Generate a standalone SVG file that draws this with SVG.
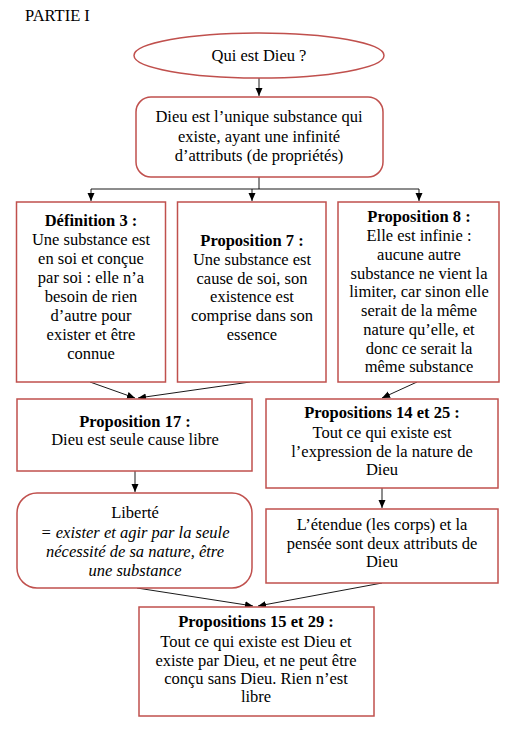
<svg xmlns="http://www.w3.org/2000/svg" width="520" height="735" viewBox="0 0 520 735">
<defs>
<style>
.box{fill:#fff;stroke:#c0504d;stroke-width:1.5}
.t{font-family:"Liberation Serif","Times New Roman",serif;font-size:16.5px;fill:#000;text-anchor:middle}
.b{font-weight:bold}
.i{font-style:italic}
.c{stroke:#000;stroke-width:0.9;fill:none}
</style>
<marker id="ah" markerUnits="userSpaceOnUse" markerWidth="8" markerHeight="8" viewBox="0 0 8 8" refX="8" refY="4" orient="auto">
<path d="M0,0.5 L8,4 L0,7.5 Z" fill="#000"/>
</marker>
</defs>
<rect width="520" height="735" fill="#fff"/>
<text x="25" y="21" style="font-family:'Liberation Serif',serif;font-size:16.5px">PARTIE I</text>

<g id="connectors">
<line class="c" x1="259" y1="78" x2="259" y2="96" marker-end="url(#ah)"/>
<polyline class="c" points="259,177 259,189"/>
<line class="c" x1="91" y1="189" x2="419" y2="189"/>
<line class="c" x1="91" y1="189" x2="91" y2="201" marker-end="url(#ah)"/>
<line class="c" x1="252" y1="189" x2="252" y2="201" marker-end="url(#ah)"/>
<line class="c" x1="419" y1="189" x2="419" y2="201" marker-end="url(#ah)"/>
<line class="c" x1="90" y1="382" x2="135" y2="398" marker-end="url(#ah)"/>
<line class="c" x1="250" y1="382" x2="138" y2="398" marker-end="url(#ah)"/>
<line class="c" x1="417" y1="382" x2="382" y2="398" marker-end="url(#ah)"/>
<line class="c" x1="135" y1="471" x2="135" y2="492" marker-end="url(#ah)"/>
<line class="c" x1="382" y1="488" x2="382" y2="508" marker-end="url(#ah)"/>
<line class="c" x1="137" y1="588" x2="253" y2="606" marker-end="url(#ah)"/>
<line class="c" x1="382" y1="583" x2="258" y2="606" marker-end="url(#ah)"/>
</g>

<g id="n-qui">
<ellipse class="box" cx="259" cy="55.5" rx="125" ry="22.5"/>
<text class="t" x="259" y="61">Qui est Dieu ?</text>
</g>

<g id="n-dieu">
<rect class="box" x="136" y="97" width="247" height="80" rx="15"/>
<text class="t" x="259" y="122">Dieu est l’unique substance qui</text>
<text class="t" x="259" y="142">existe, ayant une infinité</text>
<text class="t" x="259" y="161">d’attributs (de propriétés)</text>
</g>

<g id="n-def3">
<rect class="box" x="16.5" y="202" width="149" height="180"/>
<text class="t b" x="91" y="226">Définition 3 :</text>
<text class="t" x="91" y="245">Une substance est</text>
<text class="t" x="91" y="264">en soi et conçue</text>
<text class="t" x="91" y="283">par soi : elle n’a</text>
<text class="t" x="91" y="302">besoin de rien</text>
<text class="t" x="91" y="321">d’autre pour</text>
<text class="t" x="91" y="340">exister et être</text>
<text class="t" x="91" y="359">connue</text>
</g>

<g id="n-prop7">
<rect class="box" x="177.5" y="202" width="148.5" height="180"/>
<text class="t b" x="252" y="246">Proposition 7 :</text>
<text class="t" x="252" y="265">Une substance est</text>
<text class="t" x="252" y="284">cause de soi, son</text>
<text class="t" x="252" y="302">existence est</text>
<text class="t" x="252" y="321">comprise dans son</text>
<text class="t" x="252" y="340">essence</text>
</g>

<g id="n-prop8">
<rect class="box" x="338" y="202" width="161" height="180"/>
<text class="t b" x="419" y="222">Proposition 8 :</text>
<text class="t" x="419" y="241">Elle est infinie :</text>
<text class="t" x="419" y="260">aucune autre</text>
<text class="t" x="419" y="279">substance ne vient la</text>
<text class="t" x="419" y="297">limiter, car sinon elle</text>
<text class="t" x="419" y="316">serait de la même</text>
<text class="t" x="419" y="335">nature qu’elle, et</text>
<text class="t" x="419" y="354">donc ce serait la</text>
<text class="t" x="419" y="372">même substance</text>
</g>

<g id="n-prop17">
<rect class="box" x="17" y="399" width="235" height="72"/>
<text class="t b" x="135" y="427">Proposition 17 :</text>
<text class="t" x="135" y="445">Dieu est seule cause libre</text>
</g>

<g id="n-prop1425">
<rect class="box" x="266" y="399" width="232" height="89"/>
<text class="t b" x="382" y="418">Propositions 14 et 25 :</text>
<text class="t" x="382" y="438">Tout ce qui existe est</text>
<text class="t" x="382" y="457">l’expression de la nature de</text>
<text class="t" x="382" y="475">Dieu</text>
</g>

<g id="n-liberte">
<rect class="box" x="17" y="493" width="235" height="95" rx="20"/>
<text class="t" x="135" y="518">Liberté</text>
<text class="t i" x="135" y="538">= exister et agir par la seule</text>
<text class="t i" x="135" y="557">nécessité de sa nature, être</text>
<text class="t i" x="135" y="576">une substance</text>
</g>

<g id="n-etendue">
<rect class="box" x="266" y="509" width="232" height="74"/>
<text class="t" x="382" y="530">L’étendue (les corps) et la</text>
<text class="t" x="382" y="549">pensée sont deux attributs de</text>
<text class="t" x="382" y="567">Dieu</text>
</g>

<g id="n-prop1529">
<rect class="box" x="139" y="607" width="235" height="109"/>
<text class="t b" x="256" y="627">Propositions 15 et 29 :</text>
<text class="t" x="256" y="647">Tout ce qui existe est Dieu et</text>
<text class="t" x="256" y="666">existe par Dieu, et ne peut être</text>
<text class="t" x="256" y="684">conçu sans Dieu. Rien n’est</text>
<text class="t" x="256" y="702">libre</text>
</g>
</svg>
